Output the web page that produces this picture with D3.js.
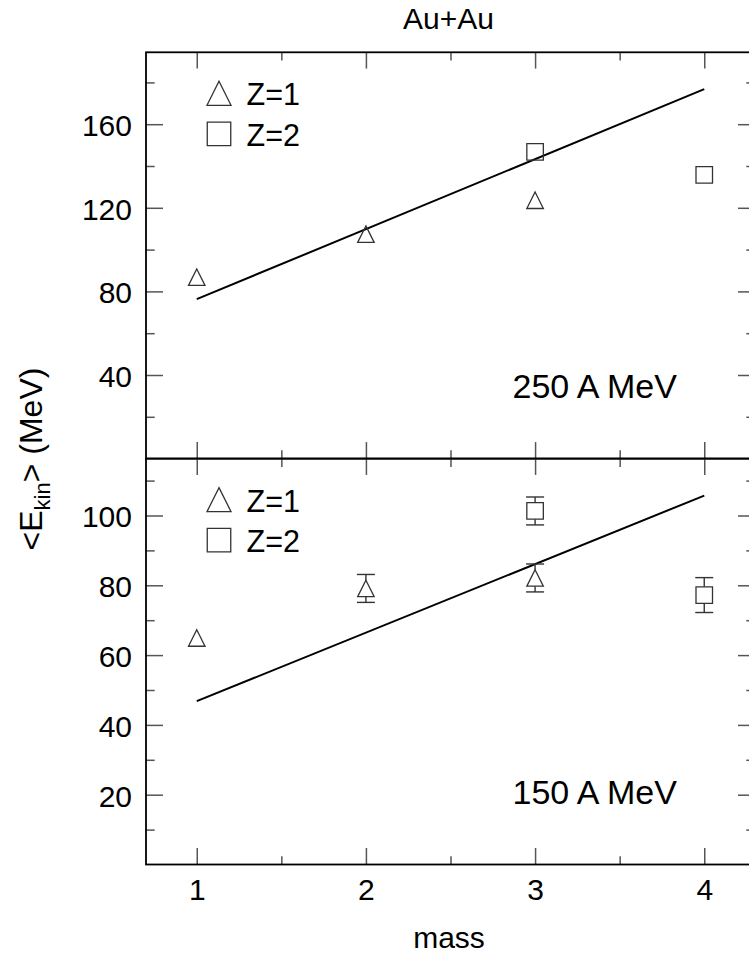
<!DOCTYPE html>
<html>
<head>
<meta charset="utf-8">
<script src="https://cdn.jsdelivr.net/npm/d3@7"></script>
<style>
  html, body { margin: 0; padding: 0; background: #fff; }
  svg { display: block; font-family: "Liberation Sans", Arial, Helvetica, sans-serif; }
</style>
</head>
<body>
<svg id="chart" width="749" height="958"></svg>
<script>
// ---------------- data ----------------
const title = "Au+Au";
const xLabel = "mass";
const xTicks = [1, 2, 3, 4];
const xMinorTicks = [1.5, 2.5, 3.5];

// Top panel: 250 A MeV
const topLabel = "250 A MeV";
const topYTicks = [40, 80, 120, 160];
const topYMinor = [20, 60, 100, 140, 180];
const topZ1Mass = [1, 2, 3];
const topZ1Ekin = [86.8, 107.4, 123.6];
const topZ2Mass = [3, 4];
const topZ2Ekin = [146.8, 135.8];
const topFitMass = [1, 4];
const topFitEkin = [76.3, 176.8];

// Bottom panel: 150 A MeV
const botLabel = "150 A MeV";
const botYTicks = [20, 40, 60, 80, 100];
const botYMinor = [10, 30, 50, 70, 90, 110];
const botZ1Mass = [1, 2, 3];
const botZ1Ekin = [64.9, 79.1, 82.1];
const botZ1Err = [0, 4, 4];
const botZ2Mass = [3, 4];
const botZ2Ekin = [101.3, 77.2];
const botZ2Err = [4, 5];
const botFitMass = [1, 4];
const botFitEkin = [46.8, 105.7];

const legendLabels = ["Z=1", "Z=2"];

// ---------------- layout ----------------
const svg = d3.select("#chart");
const L = 146, R = 755;
const topT = 52.3, midY = 458.6, botB = 864.5;

const x = d3.scaleLinear().domain([0.7, 4.3]).range([L, R]);
const yTop = d3.scaleLinear().domain([0, 194.4]).range([midY, topT]);
const yBot = d3.scaleLinear().domain([0, 116.3]).range([botB, midY]);

const tickColor = "#555";
const markColor = "#333";

const triPath = s => { const h = s; const w = s; return `M0,${-h/2}L${w/2},${h/2}L${-w/2},${h/2}Z`; };
const sqPath = s => `M${-s/2},${-s/2}h${s}v${s}h${-s}Z`;

function styleAxis(g) {
  g.select(".domain").remove();
  g.selectAll(".tick line").attr("stroke", tickColor).attr("stroke-width", 1.5);
  g.selectAll("text").attr("font-size", 30).attr("fill", "#000").attr("font-family", null);
}

function drawPanel(y, top, bottom, yTicks, yMinor, showXLabels, d) {
  const g = svg.append("g");
  // left axis majors with labels
  g.append("g").attr("transform", `translate(${L},0)`)
    .call(d3.axisLeft(y).tickValues(yTicks).tickSizeInner(-17).tickSizeOuter(0).tickPadding(14).tickFormat(d3.format("d")))
    .call(styleAxis)
    .call(a => a.selectAll("text").attr("dy", "0.38em"));
  g.append("g").attr("transform", `translate(${L},0)`)
    .call(d3.axisLeft(y).tickValues(yMinor).tickSizeInner(-8.7).tickSizeOuter(0).tickFormat(""))
    .call(styleAxis);
  // right axis
  g.append("g").attr("transform", `translate(${R},0)`)
    .call(d3.axisRight(y).tickValues(yTicks).tickSizeInner(-17).tickSizeOuter(0).tickFormat(""))
    .call(styleAxis);
  g.append("g").attr("transform", `translate(${R},0)`)
    .call(d3.axisRight(y).tickValues(yMinor).tickSizeInner(-8.7).tickSizeOuter(0).tickFormat(""))
    .call(styleAxis);
  // top x ticks (pointing down)
  g.append("g").attr("transform", `translate(0,${top})`)
    .call(d3.axisTop(x).tickValues(xTicks).tickSizeInner(-16.3).tickSizeOuter(0).tickFormat(""))
    .call(styleAxis);
  g.append("g").attr("transform", `translate(0,${top})`)
    .call(d3.axisTop(x).tickValues(xMinorTicks).tickSizeInner(-8.3).tickSizeOuter(0).tickFormat(""))
    .call(styleAxis);
  // bottom x ticks (pointing up)
  const bx = g.append("g").attr("transform", `translate(0,${bottom})`)
    .call(d3.axisBottom(x).tickValues(xTicks).tickSizeInner(-16.5).tickSizeOuter(0).tickPadding(14.5)
      .tickFormat(showXLabels ? d3.format("d") : ""))
    .call(styleAxis);
  g.append("g").attr("transform", `translate(0,${bottom})`)
    .call(d3.axisBottom(x).tickValues(xMinorTicks).tickSizeInner(-8.3).tickSizeOuter(0).tickFormat(""))
    .call(styleAxis);

  // fit line
  const line = d3.line().x(p => x(p[0])).y(p => y(p[1]));
  g.append("path")
    .attr("d", line(d.fitMass.map((m, i) => [m, d.fitEkin[i]])))
    .attr("fill", "none").attr("stroke", "#000").attr("stroke-width", 2);

  const ms = 16.5;
  // error bars
  function errBars(mass, ekin, err) {
    if (!err) return;
    mass.forEach((m, i) => {
      const e = err[i];
      if (!e) return;
      const cx = x(m), cy = y(ekin[i]);
      const yt = y(ekin[i] + e), yb = y(ekin[i] - e);
      const eg = g.append("g").attr("stroke", markColor).attr("stroke-width", 1.4);
      eg.append("line").attr("x1", cx).attr("x2", cx).attr("y1", yt).attr("y2", cy - ms/2);
      eg.append("line").attr("x1", cx).attr("x2", cx).attr("y1", cy + ms/2).attr("y2", yb);
      eg.append("line").attr("x1", cx - 9).attr("x2", cx + 9).attr("y1", yt).attr("y2", yt);
      eg.append("line").attr("x1", cx - 9).attr("x2", cx + 9).attr("y1", yb).attr("y2", yb);
    });
  }
  errBars(d.z1Mass, d.z1Ekin, d.z1Err);
  errBars(d.z2Mass, d.z2Ekin, d.z2Err);

  g.selectAll(null).data(d.z1Mass.map((m, i) => [m, d.z1Ekin[i]])).join("path")
    .attr("transform", p => `translate(${x(p[0])},${y(p[1])})`)
    .attr("d", triPath(ms)).attr("fill", "none").attr("stroke", markColor).attr("stroke-width", 1.3);
  g.selectAll(null).data(d.z2Mass.map((m, i) => [m, d.z2Ekin[i]])).join("path")
    .attr("transform", p => `translate(${x(p[0])},${y(p[1])})`)
    .attr("d", sqPath(ms)).attr("fill", "none").attr("stroke", markColor).attr("stroke-width", 1.3);

  // legend
  const lg = g.append("g");
  const legY1 = top + 41, legY2 = top + 81.5;
  lg.append("path").attr("transform", `translate(219,${legY1})`).attr("d", triPath(24))
    .attr("fill", "none").attr("stroke", markColor).attr("stroke-width", 1.3);
  lg.append("path").attr("transform", `translate(219,${legY2})`).attr("d", sqPath(23.5))
    .attr("fill", "none").attr("stroke", markColor).attr("stroke-width", 1.3);
  lg.append("text").attr("x", 246.5).attr("y", legY1 + 12).attr("font-size", 30.5).text(legendLabels[0]);
  lg.append("text").attr("x", 246.5).attr("y", legY2 + 12).attr("font-size", 30.5).text(legendLabels[1]);

  // panel label
  g.append("text").attr("x", 512.5).attr("y", bottom - 60.5).attr("font-size", 34).text(d.label);

  // frame
  g.append("rect").attr("x", L).attr("y", top).attr("width", R - L).attr("height", bottom - top)
    .attr("fill", "none").attr("stroke", "#000").attr("stroke-width", 1.8);
}

drawPanel(yTop, topT, midY, topYTicks, topYMinor, false, {
  z1Mass: topZ1Mass, z1Ekin: topZ1Ekin, z2Mass: topZ2Mass, z2Ekin: topZ2Ekin,
  fitMass: topFitMass, fitEkin: topFitEkin, label: topLabel
});
drawPanel(yBot, midY, botB, botYTicks, botYMinor, true, {
  z1Mass: botZ1Mass, z1Ekin: botZ1Ekin, z1Err: botZ1Err, z2Mass: botZ2Mass, z2Ekin: botZ2Ekin, z2Err: botZ2Err,
  fitMass: botFitMass, fitEkin: botFitEkin, label: botLabel
});

// title
svg.append("text").attr("x", 448.5).attr("y", 28.5).attr("text-anchor", "middle")
  .attr("font-size", 30).text(title);
// x label
svg.append("text").attr("x", 449).attr("y", 947.5).attr("text-anchor", "middle")
  .attr("font-size", 30).text(xLabel);
// y label
const yl = svg.append("text").attr("transform", "translate(41.5,459) rotate(-90)")
  .attr("text-anchor", "middle").attr("font-size", 32);
yl.append("tspan").text("<E");
yl.append("tspan").attr("font-size", 22).attr("dy", 8).text("kin");
yl.append("tspan").attr("dy", -8).text("> (MeV)");
</script>
</body>
</html>
